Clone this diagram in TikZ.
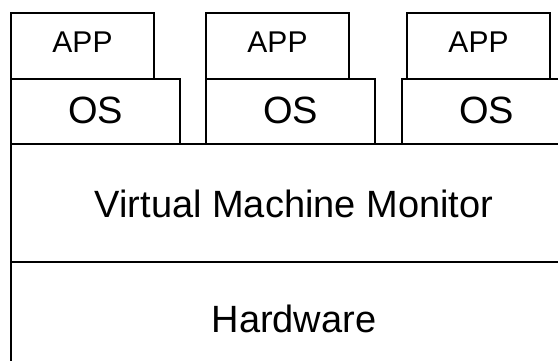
\documentclass[tikz,border=0pt]{standalone}
\usepackage{fontspec}
\setmainfont{Liberation Sans}
\begin{document}
\begin{tikzpicture}[x=1bp,y=-1bp,
  layer/.style={draw=black, line width=1.6bp, rectangle, inner sep=0pt, outer sep=0pt, anchor=north west},
  biglabel/.style={font=\fontsize{38bp}{40bp}\selectfont, inner sep=0pt, anchor=base},
  smalllabel/.style={font=\fontsize{30bp}{32bp}\selectfont, inner sep=0pt, anchor=base}]
\useasboundingbox (0,0) rectangle (558,360);
\clip (0,0) rectangle (558,360);

% bottom layers
\node[layer, minimum width=566bp, minimum height=130bp] (hw)  at (11,262) {};
\node[layer, minimum width=566bp, minimum height=118bp] (vmm) at (11,144) {};

% guest operating systems
\node[layer, minimum width=169bp, minimum height=65bp] (os1) at (11,79)  {};
\node[layer, minimum width=169bp, minimum height=65bp] (os2) at (206,79) {};
\node[layer, minimum width=169bp, minimum height=65bp] (os3) at (402,79) {};

% applications
\node[layer, minimum width=143bp, minimum height=66bp] (app1) at (11,13)  {};
\node[layer, minimum width=143bp, minimum height=66bp] (app2) at (206,13) {};
\node[layer, minimum width=143bp, minimum height=66bp] (app3) at (407,13) {};

% labels
\node[smalllabel] (app1t) at (82.5,52)  {APP};
\node[smalllabel] (app2t) at (277.5,52) {APP};
\node[smalllabel] (app3t) at (478.5,52) {APP};
\node[biglabel] (os1t) at (95.5,123)  {OS};
\node[biglabel] (os2t) at (290.5,123) {OS};
\node[biglabel] (os3t) at (486.5,123) {OS};
\node[biglabel] (vmmt) at (294,217) {Virtual Machine Monitor};
\node[biglabel] (hwt)  at (294,332) {Hardware};
\end{tikzpicture}
\end{document}
